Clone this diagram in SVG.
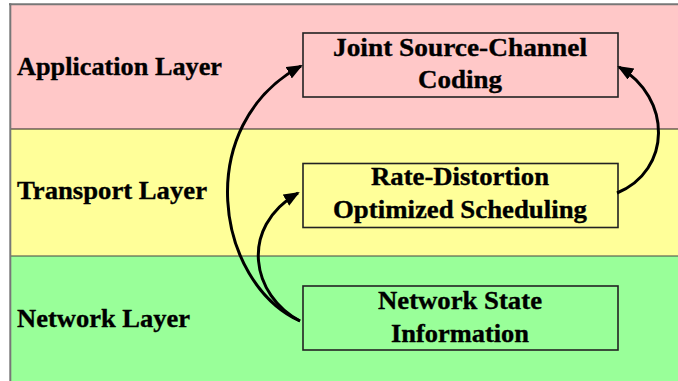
<svg xmlns="http://www.w3.org/2000/svg" width="678" height="381" viewBox="0 0 678 381">
<defs>
<style>
.lbl{font-weight:bold;font-size:26px;fill:#000;stroke:#000;stroke-width:0.35;}
.box{stroke:#222;stroke-width:1.6;}
.txt{font-weight:bold;font-size:25px;fill:#000;stroke:#000;stroke-width:0.35;text-anchor:middle;}
.arr{fill:none;stroke:#000;stroke-width:3;marker-end:url(#ah);}
</style>
<marker id="ah" markerWidth="16" markerHeight="14" refX="14" refY="6.5" orient="auto" markerUnits="userSpaceOnUse">
<path d="M0,0 L16,6.5 L0,13 Z" fill="#000"/>
</marker>
</defs>
<rect x="0" y="0" width="678" height="381" fill="#fff"/>
<g id="bands">
<rect x="10" y="4" width="668" height="125" fill="#ffc8c8"/>
<rect x="10" y="129" width="668" height="127" fill="#ffff99"/>
<rect x="10" y="256" width="668" height="125" fill="#99ff99"/>
<line x1="10" y1="129" x2="678" y2="129" stroke="#222" stroke-width="1.2"/>
<line x1="10" y1="256" x2="678" y2="256" stroke="#444" stroke-width="1.2"/>
<line x1="9" y1="4.3" x2="678" y2="4.3" stroke="#777" stroke-width="2"/>
<line x1="10.3" y1="3.3" x2="10.3" y2="381" stroke="#777" stroke-width="2"/>
</g>
<g id="layer-labels" font-family="'Liberation Serif', 'Times New Roman', 'DejaVu Serif', serif">
<text class="lbl" x="17" y="75" textLength="205" lengthAdjust="spacingAndGlyphs">Application Layer</text>
<text class="lbl" x="17" y="199" textLength="190" lengthAdjust="spacingAndGlyphs">Transport Layer</text>
<text class="lbl" x="17" y="327" textLength="173" lengthAdjust="spacingAndGlyphs">Network Layer</text>
</g>
<g id="jscc" font-family="'Liberation Serif', 'Times New Roman', 'DejaVu Serif', serif">
<rect class="box" x="303" y="33" width="315" height="64" fill="#ffc8c8"/>
<text class="txt" x="460" y="56" textLength="254" lengthAdjust="spacingAndGlyphs">Joint Source-Channel</text>
<text class="txt" x="460" y="88" textLength="84" lengthAdjust="spacingAndGlyphs">Coding</text>
</g>
<g id="rdos" font-family="'Liberation Serif', 'Times New Roman', 'DejaVu Serif', serif">
<rect class="box" x="303" y="163.5" width="315" height="64" fill="#ffff99"/>
<text class="txt" x="460" y="185" textLength="178" lengthAdjust="spacingAndGlyphs">Rate-Distortion</text>
<text class="txt" x="460" y="218" textLength="254" lengthAdjust="spacingAndGlyphs">Optimized Scheduling</text>
</g>
<g id="nsi" font-family="'Liberation Serif', 'Times New Roman', 'DejaVu Serif', serif">
<rect class="box" x="303" y="286" width="315" height="64" fill="#99ff99"/>
<text class="txt" x="460" y="309" textLength="164" lengthAdjust="spacingAndGlyphs">Network State</text>
<text class="txt" x="460" y="342" textLength="138" lengthAdjust="spacingAndGlyphs">Information</text>
</g>
<g id="connectors">
<path class="arr" d="M300,321 C215,282 192,125 301,66"/>
<path class="arr" d="M300,321 C252,296 238,228 298,193"/>
<path class="arr" d="M617,193 C672,170 672,98 619,67"/>
</g>
</svg>
